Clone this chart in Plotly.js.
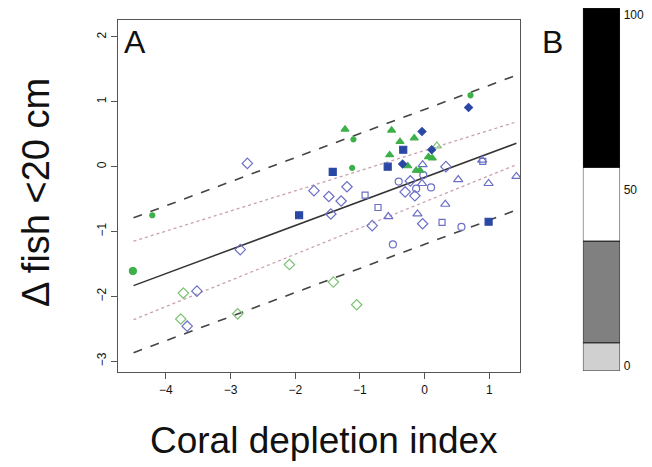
<!DOCTYPE html>
<html>
<head>
<meta charset="utf-8">
<script src="https://cdn.plot.ly/plotly-3.0.1.min.js"></script>
<style>body{margin:0;background:#fff}#chart{width:652px;height:467px}</style>
</head>
<body>
<div id="chart"></div>
<script>
// point groups
const greenTriX = [-1.23, -0.51, -0.38, -0.16, -0.54, -0.26, 0.06, 0.12, -0.13, -0.07];
const greenTriY = [0.575, 0.56, 0.385, 0.44, 0.18, 0.01, 0.15, 0.13, -0.06, -0.06];
const greenTriOpenX = [0.19];
const greenTriOpenY = [0.32];
const greenDotX = [-1.10, -1.12, 0.71, -4.21];
const greenDotY = [0.42, -0.02, 1.10, -0.75];
const greenBigDotX = [-4.51];
const greenBigDotY = [-1.61];
const greenDiaOpenX = [-2.09, -1.41, -1.05, -3.73, -3.77, -2.89];
const greenDiaOpenY = [-1.51, -1.78, -2.13, -1.95, -2.35, -2.27];
const blueDiaX = [0.68, -0.04, 0.11, -0.34];
const blueDiaY = [0.91, 0.54, 0.26, 0.04];
const blueSqX = [-0.33, -1.42, -0.57, -1.94, 0.99];
const blueSqY = [0.26, -0.08, 0.0, -0.75, -0.85];
const blueDiaOpenX = [-2.74, -1.71, -1.48, -1.29, -1.20, -0.22, -0.30, -0.15, 0.33, -1.45, -0.81, -0.03, -2.85, -3.52, -3.67];
const blueDiaOpenY = [0.05, -0.37, -0.46, -0.53, -0.31, -0.22, -0.39, -0.45, 0.0, -0.73, -0.91, -0.88, -1.28, -1.92, -2.46];
const blueCircOpenX = [-0.40, -0.13, 0.10, -0.02, -0.49, 0.57];
const blueCircOpenY = [-0.23, -0.34, -0.32, -0.13, -1.20, -0.93];
const blueSqOpenX = [-0.92, 0.90, -0.72, 0.27];
const blueSqOpenY = [-0.44, 0.08, -0.63, -0.86];
const blueTriOpenX = [-0.03, 0.52, 0.99, 1.42, 0.89, -0.04, 0.32, -0.56, -0.11];
const blueTriOpenY = [0.03, -0.20, -0.26, -0.15, 0.10, -0.26, -0.58, -0.77, -0.73];

// fit and bands
const lineX = [-4.5, 1.42];
const fitY = [-1.835, 0.36];
const confUpY = [-1.15, 0.69];
const confLoY = [-2.36, 0.03];
const predUpY = [-0.79, 1.41];
const predLoY = [-2.87, -0.67];

// panel B scale
const segBase = [-1.5, 6.5, 35.5, 56.5];
const segTop = [6.5, 35.5, 56.5, 102];
const segColor = ["#d0d0d0", "#808080", "#ffffff", "#000000"];
const scaleTicks = [0, 50, 100];

const GREEN = "#3db04a", BLUE = "#2b47a6", BLUE_O = "#6b6fc6", GREEN_O = "#7cc274";

function pts(x, y, sym, color, size) {
  return { x: x, y: y, type: "scatter", mode: "markers", showlegend: false, hoverinfo: "skip",
    marker: { symbol: sym, color: color, size: size, line: { color: color, width: 1.2 } } };
}
function ln(y, dash, color, width) {
  return { x: lineX, y: y, type: "scatter", mode: "lines", showlegend: false, hoverinfo: "skip",
    line: { color: color, dash: dash, width: width } };
}

const traces = [
  ln(predUpY, "dash", "#444", 1.6), ln(predLoY, "dash", "#444", 1.6),
  ln(confUpY, "dot", "#c9a0b0", 1.3), ln(confLoY, "dot", "#c9a0b0", 1.3),
  ln(fitY, "solid", "#333", 1.5),
  pts(blueDiaOpenX, blueDiaOpenY, "diamond-open", BLUE_O, 8),
  pts(blueCircOpenX, blueCircOpenY, "circle-open", BLUE_O, 7),
  pts(blueSqOpenX, blueSqOpenY, "square-open", BLUE_O, 6),
  pts(blueTriOpenX, blueTriOpenY, "triangle-up-open", BLUE_O, 8),
  pts(greenDiaOpenX, greenDiaOpenY, "diamond-open", GREEN_O, 8),
  pts(greenTriOpenX, greenTriOpenY, "triangle-up-open", GREEN_O, 8),
  pts(greenTriX, greenTriY, "triangle-up", GREEN, 7),
  pts(greenDotX, greenDotY, "circle", GREEN, 5),
  pts(greenBigDotX, greenBigDotY, "circle", GREEN, 7),
  pts(blueDiaX, blueDiaY, "diamond", BLUE, 6),
  pts(blueSqX, blueSqY, "square", BLUE, 7)
];
for (let i = 0; i < segBase.length; i++) {
  traces.push({ x: [0], y: [segTop[i] - segBase[i]], base: [segBase[i]], type: "bar", width: 1,
    xaxis: "x2", yaxis: "y2", showlegend: false, hoverinfo: "skip",
    marker: { color: segColor[i], line: { color: "#222", width: 1 } } });
}

const FONT = "Liberation Sans, Arial, sans-serif";
const layout = {
  width: 652, height: 467, margin: { l: 0, r: 0, t: 0, b: 0 },
  paper_bgcolor: "#fff", plot_bgcolor: "#fff", barmode: "overlay",
  font: { family: FONT, color: "#111", size: 12 },
  xaxis: { domain: [0.181, 0.798], range: [-4.74, 1.48], tickvals: [-4, -3, -2, -1, 0, 1],
    ticks: "outside", ticklen: 6, tickcolor: "#555", showgrid: false, zeroline: false,
    showline: true, mirror: true, linecolor: "#555", linewidth: 1.2 },
  yaxis: { domain: [0.203, 0.957], range: [-3.17, 2.26], tickvals: [-3, -2, -1, 0, 1, 2],
    ticks: "outside", ticklen: 6, tickcolor: "#555", tickangle: -90, showgrid: false, zeroline: false,
    showline: true, mirror: true, linecolor: "#555", linewidth: 1.2 },
  xaxis2: { domain: [0.894, 0.951], range: [-0.5, 0.5], visible: false, anchor: "y2" },
  yaxis2: { domain: [0.206, 0.983], range: [-1.5, 102], anchor: "free", position: 0.955, side: "right",
    tickvals: scaleTicks, ticks: "", showgrid: false, zeroline: false, showline: false },
  annotations: [
    { text: "A", x: 122, y: 42, size: 32 },
    { text: "B", x: 540, y: 42, size: 32 },
    { text: "Δ fish <20 cm", rot: -90, x: 36, y: 193, size: 38 },
    { text: "Coral depletion index", x: 324, y: 440, size: 37 }
  ].map(function (a) {
    return { text: a.text, xref: "paper", yref: "paper", x: a.x / 652, y: 1 - a.y / 467,
      xanchor: a.text.length === 1 ? "left" : "center", yanchor: "middle", showarrow: false,
      textangle: a.rot || 0, font: { family: FONT, size: a.size, color: "#111" } };
  })
};
Plotly.newPlot("chart", traces, layout, { displayModeBar: false, staticPlot: true });
</script>
</body>
</html>
